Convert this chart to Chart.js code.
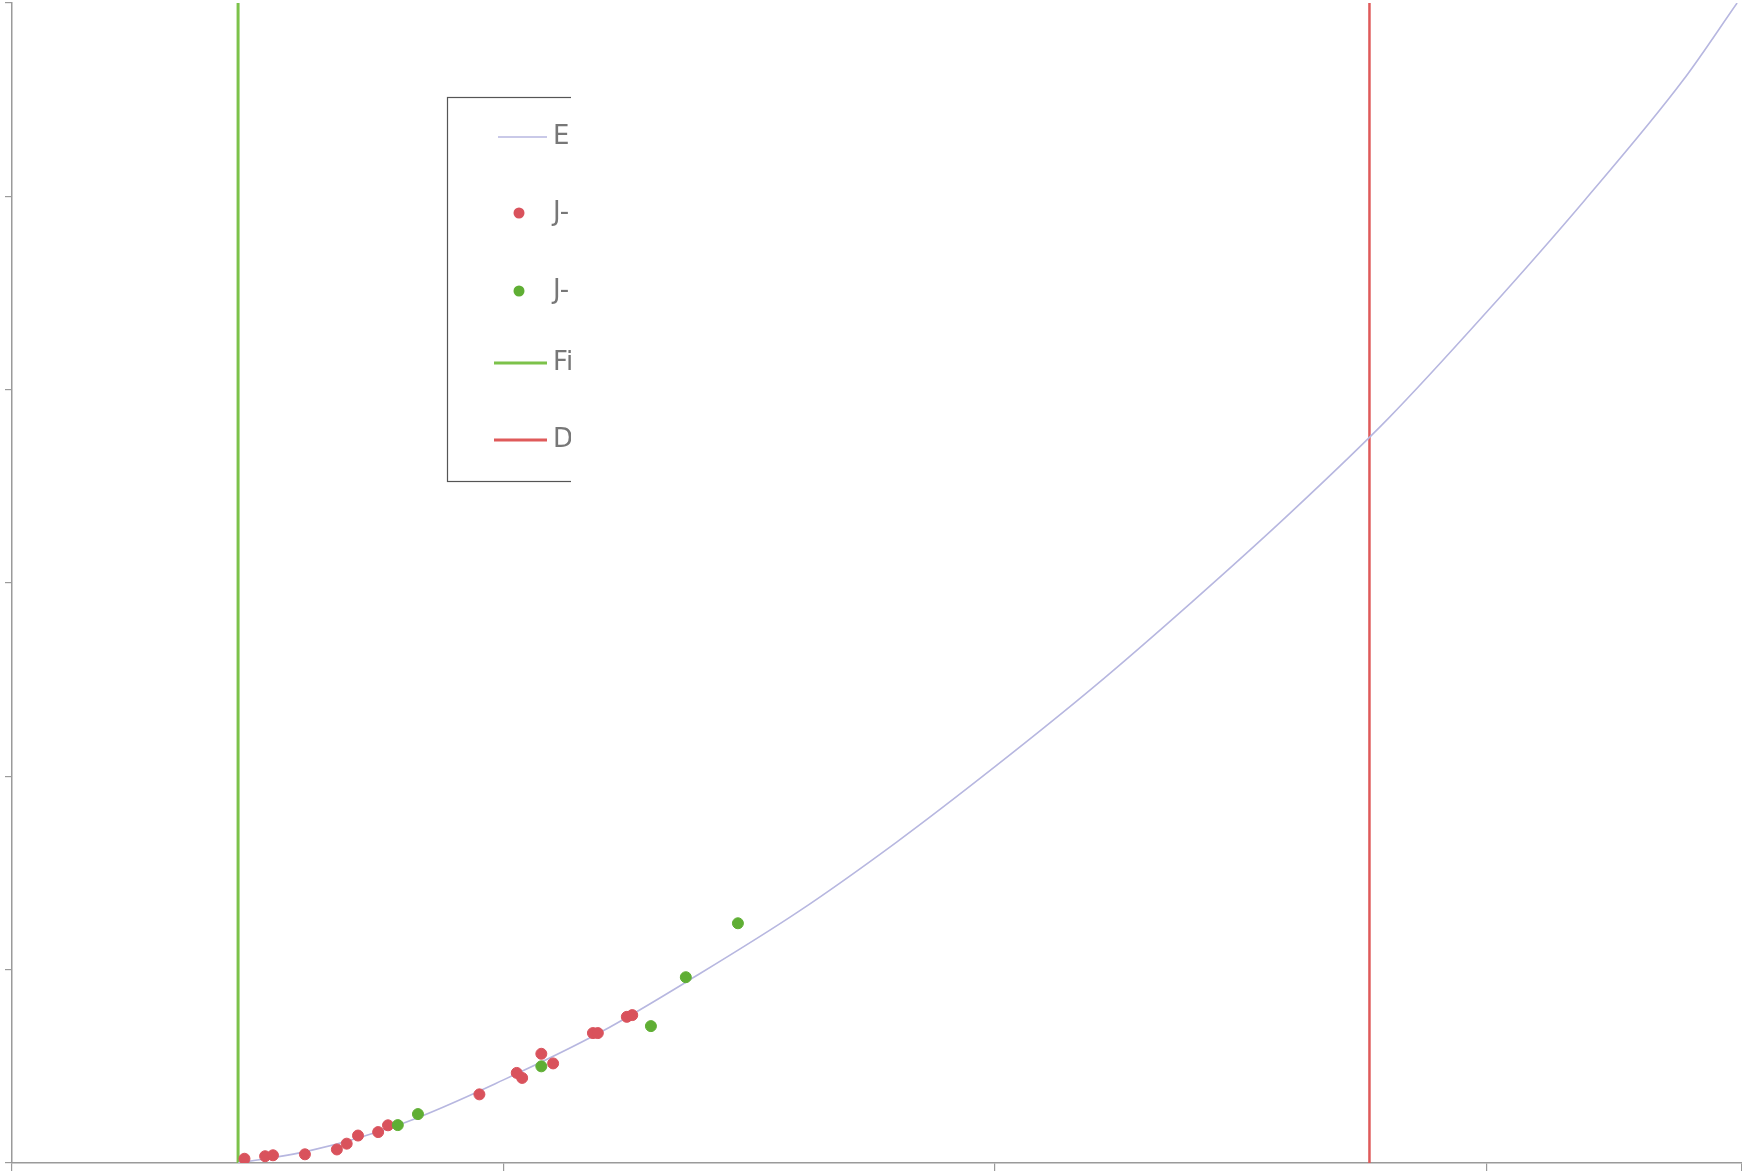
<!DOCTYPE html>
<html>
<head>
<meta charset="utf-8">
<script src="https://cdn.jsdelivr.net/npm/chart.js@4.4.1/dist/chart.umd.min.js"></script>
<style>
  html, body { margin: 0; padding: 0; background: #ffffff; }
  #wrap { width: 1742px; height: 1176px; }
</style>
</head>
<body>
<div id="wrap"><canvas id="c" width="1742" height="1176"></canvas></div>
<script>
// Fitted trend curve
const curveX = [0.46, 0.60, 0.80, 1.00, 1.20, 1.40, 1.60, 1.80, 2.00, 2.20, 2.40, 2.60, 2.80, 3.00, 3.20, 3.40, 3.51];
const curveY = [0.00, 0.06, 0.21, 0.43, 0.68, 0.98, 1.30, 1.66, 2.05, 2.46, 2.90, 3.36, 3.85, 4.40, 4.98, 5.60, 6.00];

// First sample
const redX = [0.473, 0.515, 0.531, 0.596, 0.661, 0.681, 0.704, 0.745, 0.765, 0.951, 1.027, 1.038, 1.077, 1.101, 1.182, 1.192, 1.251, 1.262];
const redY = [0.022, 0.035, 0.040, 0.045, 0.070, 0.100, 0.142, 0.160, 0.195, 0.355, 0.466, 0.440, 0.565, 0.515, 0.672, 0.672, 0.756, 0.765];

// Second sample
const greenX = [0.785, 0.826, 1.077, 1.300, 1.371, 1.477];
const greenY = [0.196, 0.253, 0.500, 0.708, 0.961, 1.240];

// Vertical reference markers
const lowerLimitX = 0.46;
const upperLimitX = 2.762;

const xMin = 0, xMax = 3.52, yMin = 0, yMax = 6;

const legendLabels = ['Empirical fit', 'J-band sample A', 'J-band sample B', 'First threshold', 'Detection limit'];

const toPoints = (xs, ys) => xs.map((x, i) => ({ x: x, y: ys[i] }));

const COLORS = {
  curve: '#b7b7e0',
  red: '#d9525c',
  green: '#5fae34',
  greenLine: '#7cc24a',
  redLine: '#df5a5a',
  axis: '#9a9a9a'
};

// Partial legend panel drawn onto the canvas, clipped at its right edge
const legendPanel = {
  id: 'legendPanel',
  afterDraw(chart) {
    const ctx = chart.ctx;
    const box = { left: 447, top: 97, right: 900, bottom: 481 };
    const clipRight = 571;
    ctx.save();
    ctx.beginPath();
    ctx.rect(0, 0, clipRight, chart.height);
    ctx.clip();
    ctx.fillStyle = '#ffffff';
    ctx.fillRect(box.left, box.top, box.right - box.left, box.bottom - box.top);
    ctx.strokeStyle = '#555555';
    ctx.lineWidth = 1.2;
    ctx.strokeRect(box.left + 0.5, box.top + 0.5, box.right - box.left, box.bottom - box.top);

    const rows = [137, 213, 291, 363, 440];
    const symX0 = 494, symX1 = 547, markX = 519, textX = 553;
    ctx.font = '26px "DejaVu Sans"';
    ctx.textBaseline = 'middle';

    // fit curve symbol
    ctx.strokeStyle = COLORS.curve; ctx.lineWidth = 1.5;
    ctx.beginPath(); ctx.moveTo(symX0 + 4, rows[0]); ctx.lineTo(symX1, rows[0]); ctx.stroke();
    // red marker
    ctx.fillStyle = COLORS.red;
    ctx.beginPath(); ctx.arc(markX, rows[1], 5.5, 0, Math.PI * 2); ctx.fill();
    // green marker
    ctx.fillStyle = COLORS.green;
    ctx.beginPath(); ctx.arc(markX, rows[2], 5.5, 0, Math.PI * 2); ctx.fill();
    // threshold lines
    ctx.lineWidth = 3;
    ctx.strokeStyle = COLORS.greenLine;
    ctx.beginPath(); ctx.moveTo(symX0, rows[3]); ctx.lineTo(symX1, rows[3]); ctx.stroke();
    ctx.strokeStyle = COLORS.redLine;
    ctx.beginPath(); ctx.moveTo(symX0, rows[4]); ctx.lineTo(symX1, rows[4]); ctx.stroke();

    ctx.fillStyle = '#777777';
    legendLabels.forEach((t, i) => ctx.fillText(t, textX, rows[i]));
    ctx.restore();
  }
};

new Chart(document.getElementById('c'), {
  type: 'scatter',
  data: {
    datasets: [
      {
        label: legendLabels[0],
        type: 'line',
        data: toPoints(curveX, curveY),
        borderColor: COLORS.curve,
        borderWidth: 1.6,
        pointRadius: 0,
        fill: false,
        cubicInterpolationMode: 'monotone',
        order: 3
      },
      {
        label: legendLabels[1],
        data: toPoints(redX, redY),
        backgroundColor: COLORS.red,
        borderColor: COLORS.red,
        pointRadius: 5.5,
        pointStyle: 'circle',
        order: 2
      },
      {
        label: legendLabels[2],
        data: toPoints(greenX, greenY),
        backgroundColor: COLORS.green,
        borderColor: COLORS.green,
        pointRadius: 5.5,
        pointStyle: 'circle',
        order: 1
      },
      {
        label: legendLabels[3],
        type: 'line',
        data: [{ x: lowerLimitX, y: yMin }, { x: lowerLimitX, y: yMax }],
        borderColor: COLORS.greenLine,
        borderWidth: 3,
        pointRadius: 0,
        fill: false,
        clip: false,
        order: 4
      },
      {
        label: legendLabels[4],
        type: 'line',
        data: [{ x: upperLimitX, y: yMin }, { x: upperLimitX, y: yMax }],
        borderColor: COLORS.redLine,
        borderWidth: 2.5,
        pointRadius: 0,
        fill: false,
        clip: false,
        order: 4
      }
    ]
  },
  options: {
    responsive: false,
    devicePixelRatio: 1,
    animation: false,
    layout: { autoPadding: false, padding: { top: 3, right: 0, left: 0, bottom: 0 } },
    plugins: {
      legend: { display: false },
      tooltip: { enabled: false }
    },
    scales: {
      x: {
        type: 'linear',
        min: xMin,
        max: xMax,
        ticks: { display: false, stepSize: 1 },
        grid: { drawOnChartArea: false, drawTicks: true, tickLength: 8, color: COLORS.axis, lineWidth: 1.2 },
        border: { display: true, color: COLORS.axis, width: 1.5 },
        afterFit(scale) { scale.height = 13; }
      },
      y: {
        type: 'linear',
        min: yMin,
        max: yMax,
        ticks: { display: false, stepSize: 1 },
        grid: { drawOnChartArea: false, drawTicks: true, tickLength: 7, color: COLORS.axis, lineWidth: 1.2 },
        border: { display: true, color: COLORS.axis, width: 1.5 },
        afterFit(scale) { scale.width = 12; }
      }
    }
  },
  plugins: [legendPanel]
});
</script>
</body>
</html>
